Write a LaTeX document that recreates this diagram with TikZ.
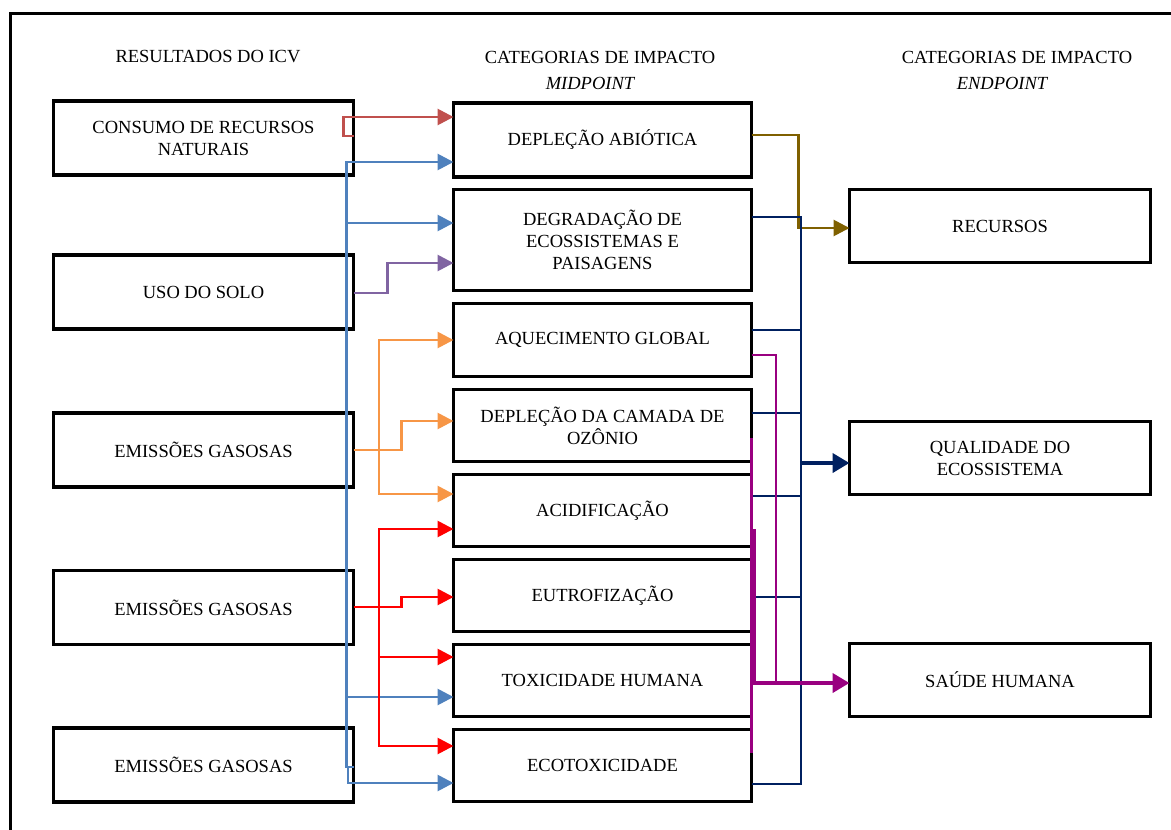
\documentclass[tikz,border=0pt]{standalone}
\usepackage{fontspec}
\setmainfont{Liberation Serif}
\usetikzlibrary{arrows.meta,calc}

\definecolor{redsoft}{RGB}{192,80,77}
\definecolor{bluel}{RGB}{79,129,189}
\definecolor{purpl}{RGB}{128,100,162}
\definecolor{orangel}{RGB}{247,150,70}
\definecolor{redb}{RGB}{255,0,0}
\definecolor{brownl}{RGB}{127,96,0}
\definecolor{navyl}{RGB}{0,32,96}
\definecolor{magl}{RGB}{153,0,128}

\begin{document}
\begin{tikzpicture}[x=1pt,y=-1pt,
  font=\fontsize{18.5}{22}\selectfont,
  box/.style={draw, line width=3.5pt, minimum width=#1, minimum height=74pt,
              align=center, inner sep=0pt, outer sep=0pt},
  box/.default=300pt,
  conn/.style={line width=2.8pt},
  thin conn/.style={line width=2.2pt},
  heavy/.style={line width=4pt},
  tip/.style={-{Triangle[length=16pt,width=16pt]}},
  bigtip/.style={-{Triangle[length=17pt,width=19pt]}}]

\useasboundingbox (0,0) rectangle (1171,830);

% outer frame (only the left and top sides fall on the page)
\draw[line width=3pt] (10,830) -- (10,13) -- (1171,13);

% column headings
\node (h1)  at (208,57)  {RESULTADOS DO ICV};
\node (h2)  at (600,57)  {CATEGORIAS DE IMPACTO};
\node (h2b) at (590,83)  {\itshape MIDPOINT};
\node (h3)  at (1017,57) {CATEGORIAS DE IMPACTO};
\node (h3b) at (1002,83) {\itshape ENDPOINT};

% inventory results
\node[box] (c1) at (203.5,138)   {CONSUMO DE RECURSOS\\NATURAIS};
\node[box] (c2) at (203.5,292)   {USO DO SOLO};
\node[box] (c3) at (203.5,450)   {EMISSÕES GASOSAS};
\node[box] (c4) at (203.5,607.5) {EMISSÕES GASOSAS};
\node[box] (c5) at (203.5,765)   {EMISSÕES GASOSAS};

% midpoint categories
\node[box=298pt] (m1) at (602.5,140) {DEPLEÇÃO ABIÓTICA};
\node[box=298pt, minimum height=101pt] (m2) at (602.5,240) {DEGRADAÇÃO DE\\ECOSSISTEMAS E\\PAISAGENS};
\node[box=298pt, minimum height=73pt] (m3) at (602.5,340)   {AQUECIMENTO GLOBAL};
\node[box=298pt, minimum height=72pt] (m4) at (602.5,425.5) {DEPLEÇÃO DA CAMADA DE\\OZÔNIO};
\node[box=298pt, minimum height=72pt] (m5) at (602.5,510.5) {ACIDIFICAÇÃO};
\node[box=298pt, minimum height=72pt] (m6) at (602.5,595.5) {EUTROFIZAÇÃO};
\node[box=298pt, minimum height=72pt] (m7) at (602.5,680.5) {TOXICIDADE HUMANA};
\node[box=298pt, minimum height=72pt] (m8) at (602.5,765.5) {ECOTOXICIDADE};

% endpoint categories
\node[box=301pt, minimum height=73pt] (e1) at (1000,226) {RECURSOS};
\node[box=301pt, minimum height=73pt] (e2) at (1000,458) {QUALIDADE DO\\ECOSSISTEMA};
\node[box=301pt, minimum height=73pt] (e3) at (1000,680) {SAÚDE HUMANA};

% natural resources -> abiotic depletion
\draw[conn, redsoft, tip] (c1.east |- 0,136) -- ++(-10,0) |- (m1.west |- 0,117);

% land use -> ecosystem degradation
\draw[conn, purpl, tip] (c2.east |- 0,293) -- ++(34,0) |- (m2.west |- 0,263);

% blue bus
\draw[conn, bluel, tip] (c5.east |- 0,767) -- ++(-7,0) coordinate (bb) |- (m1.west |- 0,162);
\draw[conn, bluel, tip] (bb |- 0,223) -- (m2.west |- 0,223);
\draw[conn, bluel, tip] (bb |- 0,697) -- (m7.west |- 0,697);
\draw[conn, bluel, tip] ($(bb)+(1.5,0)$) -- ++(0,16) -- (m8.west |- 0,783);

% first gaseous emissions (orange)
\draw[conn, orangel, tip] (c3.east |- 0,450) -- ++(48,0) |- (m4.west |- 0,421);
\coordinate (ob) at (379,0);
\draw[conn, orangel, tip] (ob |- 0,450) |- (m3.west |- 0,340);
\draw[conn, orangel, tip] (ob |- 0,450) |- (m5.west |- 0,494);

% second gaseous emissions (red)
\draw[conn, redb, tip] (c4.east |- 0,607) -- ++(48,0) |- (m6.west |- 0,597);
\draw[conn, redb, tip] (ob |- 0,607) |- (m5.west |- 0,529);
\draw[conn, redb, tip] (ob |- 0,607) |- (m7.west |- 0,657);
\draw[conn, redb, tip] (ob |- 0,607) |- (m8.west |- 0,746);

% resources endpoint
\draw[conn, brownl, tip] (m1.east |- 0,135) -- ++(47,0) |- (e1.west |- 0,228);

% ecosystem quality endpoint
\coordinate (nb) at (801,0);
\draw[thin conn, navyl] (m2.east |- 0,217) -- (nb |- 0,217) -- (nb |- 0,784) -- (m8.east |- 0,784);
\draw[thin conn, navyl] (m3.east |- 0,330) -- (nb |- 0,330);
\draw[thin conn, navyl] (m4.east |- 0,413) -- (nb |- 0,413);
\draw[thin conn, navyl] (m5.east |- 0,496) -- (nb |- 0,496);
\draw[thin conn, navyl] (m6.east |- 0,597) -- (nb |- 0,597);
\draw[heavy, navyl, bigtip] (nb |- 0,463) -- (e2.west |- 0,463);

% human health endpoint
\coordinate (mb) at (776,0);
\draw[conn, magl] (m3.east |- 0,355) -| (mb |- 0,683);
\draw[conn, magl] (m4.east |- 0,438) -- (m8.east |- 0,753);
\draw[conn, magl] ($(m5.east |- 0,529)+(3,0)$) -- ($(m7.east |- 0,683)+(3,0)$);
\draw[heavy, magl, bigtip] (m7.east |- 0,683) -- (e3.west |- 0,683);

\end{tikzpicture}
\end{document}
